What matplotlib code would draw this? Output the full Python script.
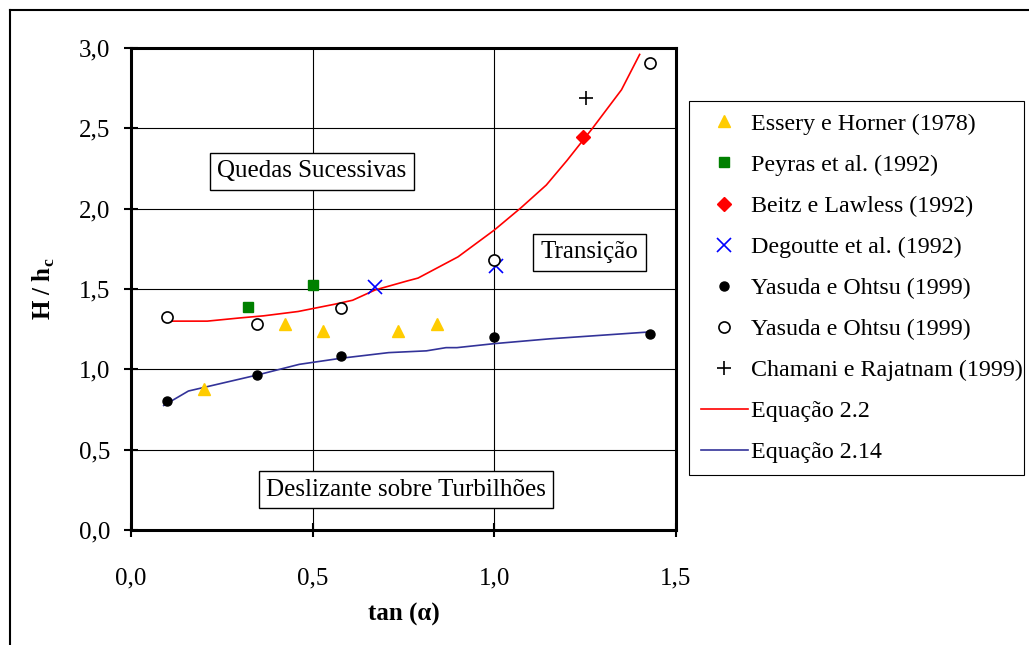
import matplotlib
matplotlib.use("Agg")
import matplotlib.pyplot as plt
from matplotlib.lines import Line2D
from matplotlib.ticker import FuncFormatter

plt.rcParams['font.family'] = ['Liberation Serif', 'DejaVu Serif']
plt.rcParams['mathtext.fontset'] = 'custom'
plt.rcParams['mathtext.rm'] = 'Liberation Serif'
plt.rcParams['mathtext.bf'] = 'Liberation Serif:bold'

# dados experimentais
essery_x = [0.202, 0.425, 0.528, 0.735, 0.842]
essery_y = [0.875, 1.285, 1.24, 1.24, 1.285]

peyras_x = [0.322, 0.502]
peyras_y = [1.39, 1.525]

beitz_x = [1.243]
beitz_y = [2.446]

degoutte_x = [0.672, 1.005]
degoutte_y = [1.51, 1.645]

yasuda_cheio_x = [0.100, 0.348, 0.578, 0.999, 1.429]
yasuda_cheio_y = [0.802, 0.965, 1.081, 1.202, 1.219]

yasuda_vazio_x = [0.100, 0.348, 0.578, 0.999, 1.429]
yasuda_vazio_y = [1.327, 1.281, 1.381, 1.68, 2.907]

chamani_x = [1.251]
chamani_y = [2.687]

# curvas
eq22_x = [0.09, 0.21, 0.30, 0.365, 0.46, 0.56, 0.61, 0.672, 0.76, 0.79,
          0.90, 1.00, 1.073, 1.143, 1.20, 1.27, 1.35, 1.40]
eq22_y = [1.30, 1.30, 1.32, 1.333, 1.36, 1.405, 1.43, 1.494, 1.55, 1.568,
          1.70, 1.867, 2.005, 2.147, 2.30, 2.50, 2.74, 2.96]

eq214_x = [0.09, 0.158, 0.217, 0.348, 0.463, 0.578, 0.709, 0.813, 0.867,
           0.897, 1.0, 1.153, 1.429]
eq214_y = [0.775, 0.865, 0.896, 0.965, 1.031, 1.069, 1.104, 1.115, 1.135,
           1.135, 1.16, 1.19, 1.233]

fig = plt.figure(figsize=(10.29, 6.45), dpi=100)
ax = fig.add_axes([131 / 1029, 1 - 530 / 645, 545 / 1029, 482 / 645])

# moldura externa
fig.add_artist(Line2D([10 / 1029, 10 / 1029], [0, 1 - 10 / 645], transform=fig.transFigure,
                      color='black', lw=1.5))
fig.add_artist(Line2D([10 / 1029, 1], [1 - 10 / 645, 1 - 10 / 645], transform=fig.transFigure,
                      color='black', lw=1.5))

ax.plot(eq22_x, eq22_y, color='#FF0000', lw=1.2, label='Equação 2.2', zorder=3)
ax.plot(eq214_x, eq214_y, color='#333399', lw=1.2, label='Equação 2.14', zorder=3)

h1, = ax.plot(essery_x, essery_y, '^', color='#FFCC00', ms=9, ls='none', label='Essery e Horner (1978)', zorder=4)
h2, = ax.plot(peyras_x, peyras_y, 's', color='#008000', ms=6.5, ls='none', label='Peyras et al. (1992)', zorder=4)
h3, = ax.plot(beitz_x, beitz_y, 'D', color='#FF0000', ms=7.5, ls='none', label='Beitz e Lawless (1992)', zorder=4)
h4, = ax.plot(degoutte_x, degoutte_y, 'x', color='#0000FF', mew=1.2, ms=10, ls='none', label='Degoutte et al. (1992)', zorder=4)
h5, = ax.plot(yasuda_cheio_x, yasuda_cheio_y, 'o', color='black', ms=6.5, ls='none', label='Yasuda e Ohtsu (1999)', zorder=4)
h6, = ax.plot(yasuda_vazio_x, yasuda_vazio_y, 'o', mfc='white', mec='black', mew=1.2, ms=8, ls='none',
              label='Yasuda e Ohtsu (1999)', zorder=4)
h7, = ax.plot(chamani_x, chamani_y, '+', color='black', mew=1.2, ms=10, ls='none',
              label='Chamani e Rajatnam (1999)', zorder=4)

ax.set_xlim(0, 1.5)
ax.set_ylim(0, 3.0)
ax.set_xticks([0, 0.5, 1.0, 1.5])
ax.set_yticks([0, 0.5, 1.0, 1.5, 2.0, 2.5, 3.0])
fmt = FuncFormatter(lambda v, p: "{:.1f}".format(v).replace('.', ','))
ax.xaxis.set_major_formatter(fmt)
ax.yaxis.set_major_formatter(fmt)
ax.grid(True, color='black', lw=0.8)
ax.set_axisbelow(True)
for s in ax.spines.values():
    s.set_linewidth(2.2)
ax.tick_params(axis='both', direction='inout', length=10, width=1.5, labelsize=18)
ax.tick_params(axis='y', pad=10)
ax.tick_params(axis='x', pad=22)

ax.set_xlabel('tan (α)', fontsize=18, fontweight='bold', labelpad=10)
ax.set_ylabel(r'H / h$_{\mathbf{c}}$', fontsize=18, fontweight='bold', labelpad=16)

caixa = dict(boxstyle='square,pad=0.3', fc='white', ec='black', lw=1)
ax.text(0.498, 2.234, 'Quedas Sucessivas', fontsize=18, ha='center', va='center', bbox=caixa, zorder=5)
ax.text(1.261, 1.73, 'Transição', fontsize=18, ha='center', va='center', bbox=caixa, zorder=5)
ax.text(0.757, 0.249, 'Deslizante sobre Turbilhões', fontsize=18, ha='center', va='center', bbox=caixa, zorder=5)

handles = [h1, h2, h3, h4, h5, h6, h7] + ax.get_lines()[:2]
leg = fig.legend(handles=handles, loc='upper left',
                 bbox_to_anchor=(689 / 1029, 1 - 472 / 645, 335 / 1029, 371 / 645), mode='expand',
                 fontsize=17.3, frameon=True, fancybox=False, edgecolor='black', framealpha=1,
                 borderaxespad=0, borderpad=0.5, labelspacing=0.8, handlelength=1.95,
                 handletextpad=0.12)
leg.get_frame().set_linewidth(0.8)

fig.savefig('out.png', dpi=100)
